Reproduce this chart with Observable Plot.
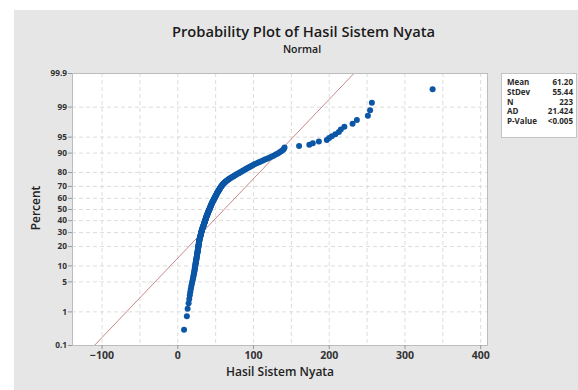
<!DOCTYPE html>
<html><head><meta charset="utf-8">
<script src="https://cdn.jsdelivr.net/npm/d3@7"></script>
<script src="https://cdn.jsdelivr.net/npm/@observablehq/plot@0.6"></script>
<style>
body{margin:0;background:#fff;font-family:"Open Sans",sans-serif;}
#wrap{position:relative;width:578px;height:390px;overflow:hidden;}
#bg{position:absolute;left:14px;top:10px;right:0;bottom:0;background:#e6e6e6;}
#head{position:absolute;left:0;top:0;width:578px;height:60px;}
#title{position:absolute;left:0;width:607px;top:21px;text-align:center;font-size:14.7px;font-weight:600;color:#1a1a1a;white-space:nowrap;}
#sub{position:absolute;left:0;width:604px;top:42px;text-align:center;font-size:10.5px;font-weight:600;color:#1a1a1a;}
#chart{position:absolute;left:0;top:60px;}
#chart svg text{font-weight:700;}
#xlab{position:absolute;left:0;width:560px;top:363px;text-align:center;font-size:12px;font-weight:600;color:#222;}
#ylab{position:absolute;left:35px;top:208px;transform:translate(-50%,-50%) rotate(-90deg);font-size:12px;font-weight:600;color:#222;white-space:nowrap;}
#stats{position:absolute;left:501px;top:73px;width:76px;height:65px;background:#fff;border:1px solid #c4c4c4;box-sizing:border-box;font-size:8px;font-weight:700;color:#2a2a2a;padding:3px 3px 0 5px;}
#stats .row{display:flex;justify-content:space-between;height:9.8px;line-height:9.8px;}
</style></head>
<body>
<div id="wrap">
<div id="bg"></div>
<div id="head"><div id="title"></div><div id="sub"></div></div>
<div id="chart"></div>
<div id="xlab"></div>
<div id="ylab"></div>
<div id="stats"></div>
</div>
<script>
const titleText = "Probability Plot of Hasil Sistem Nyata";
const subtitleText = "Normal";
const xLabel = "Hasil Sistem Nyata";
const yLabel = "Percent";
const n = 223;
const mean = 61.20, stdev = 55.44;
const statLabels = ["Mean","StDev","N","AD","P-Value"];
const statValues = ["61.20","55.44","223","21.424","<0.005"];
const pctTicks = [0.1,1,5,10,20,30,40,50,60,70,80,90,95,99,99.9];
const xTicks = [-100,0,100,200,300,400];
const xGrid = [-100,-50,0,50,100,150,200,250,300,350,400];
const values = [
 8.3,12.0,13.0,14.3,15.2,15.9,16.5,17.1,17.7,18.3,
 18.9,19.4,19.9,20.4,20.8,21.2,21.6,21.9,22.1,22.4,
 22.6,22.9,23.1,23.4,23.6,23.8,24.0,24.3,24.5,24.7,
 24.9,25.1,25.3,25.4,25.6,25.8,26.0,26.2,26.3,26.5,
 26.6,26.8,26.9,27.1,27.2,27.3,27.5,27.6,27.8,27.9,
 28.0,28.2,28.3,28.5,28.6,28.8,29.0,29.2,29.4,29.6,
 29.8,30.0,30.2,30.4,30.6,30.8,30.9,31.1,31.3,31.5,
 31.7,31.9,32.2,32.4,32.7,32.9,33.2,33.4,33.7,33.9,
 34.1,34.4,34.6,34.9,35.1,35.3,35.6,35.8,36.0,36.2,
 36.4,36.6,36.9,37.1,37.3,37.5,37.7,38.0,38.2,38.4,
 38.7,39.0,39.3,39.5,39.8,40.1,40.3,40.6,40.8,41.1,
 41.4,41.7,42.0,42.2,42.5,42.8,43.0,43.3,43.5,43.8,
 44.1,44.4,44.6,44.9,45.2,45.5,45.9,46.2,46.6,46.9,
 47.2,47.6,47.9,48.3,48.6,49.0,49.3,49.6,50.0,50.3,
 50.7,51.1,51.5,51.8,52.2,52.6,53.0,53.5,53.9,54.3,
 54.7,55.2,55.6,56.1,56.5,57.1,57.6,58.2,58.7,59.3,
 60.1,60.9,61.6,62.4,63.2,64.3,65.4,66.5,67.6,68.7,
 70.1,71.5,72.9,74.3,75.7,77.3,78.9,80.5,82.1,83.7,
 85.4,87.1,88.8,90.5,92.2,94.1,96.0,97.9,99.8,101.7,
 104.4,107.0,109.7,112.4,115.1,117.9,120.8,123.6,126.5,129.3,
 132.1,134.5,136.6,138.8,140.2,141.0,
 160.2,173.7,178.3,186.3,196.8,199.9,203.4,208.1,212.7,215.3,
 220.0,230.8,236.5,251.0,254.0,256.3,336.5
];

function probit(p){
 const a=[-3.969683028665376e+01,2.209460984245205e+02,-2.759285104469687e+02,1.383577518672690e+02,-3.066479806614716e+01,2.506628277459239e+00];
 const b=[-5.447609879822406e+01,1.615858368580409e+02,-1.556989798598866e+02,6.680131188771972e+01,-1.328068155288572e+01];
 const c=[-7.784894002430293e-03,-3.223964580411365e-01,-2.400758277161838e+00,-2.549732539343734e+00,4.374664141464968e+00,2.938163982698783e+00];
 const d=[7.784695709041462e-03,3.224671290700398e-01,2.445134137142996e+00,3.754408661907416e+00];
 const pl=0.02425, ph=1-pl; let q,r;
 if(p<pl){q=Math.sqrt(-2*Math.log(p));return (((((c[0]*q+c[1])*q+c[2])*q+c[3])*q+c[4])*q+c[5])/((((d[0]*q+d[1])*q+d[2])*q+d[3])*q+1);}
 if(p<=ph){q=p-0.5;r=q*q;return (((((a[0]*r+a[1])*r+a[2])*r+a[3])*r+a[4])*r+a[5])*q/(((((b[0]*r+b[1])*r+b[2])*r+b[3])*r+b[4])*r+1);}
 q=Math.sqrt(-2*Math.log(1-p));return -(((((c[0]*q+c[1])*q+c[2])*q+c[3])*q+c[4])*q+c[5])/((((d[0]*q+d[1])*q+d[2])*q+d[3])*q+1);
}

document.getElementById("title").textContent = titleText;
document.getElementById("sub").textContent = subtitleText;
document.getElementById("xlab").textContent = xLabel;
document.getElementById("ylab").textContent = yLabel;
document.getElementById("stats").innerHTML = statLabels.map((l,i)=>`<div class="row"><span>${l}</span><span>${statValues[i]}</span></div>`).join("");

const zTicks = pctTicks.map(p => probit(p/100));
const zLabel = new Map(zTicks.map((z,i)=>[z, String(pctTicks[i])]));
const zMin = zTicks[0], zMax = zTicks[zTicks.length-1];
const points = values.map((v,i)=>({x:v, z:probit((i+1-0.3)/(n+0.4))}));
const fit = [{x: mean + stdev*zMin, z: zMin}, {x: mean + stdev*zMax, z: zMax}];

const plot = Plot.plot({
 width:578, height:330, marginTop:13, marginBottom:45, marginLeft:72, marginRight:91,
 style:{background:"transparent", fontFamily:"Open Sans", color:"#333"},
 x:{domain:[-139,409], label:null},
 y:{domain:[zMin,zMax], label:null},
 marks:[
  Plot.frame({fill:"white", stroke:null}),
  Plot.ruleX(xGrid, {stroke:"#d4d4d4", strokeDasharray:"4,3", strokeWidth:0.8}),
  Plot.ruleY(zTicks, {stroke:"#d4d4d4", strokeDasharray:"4,3", strokeWidth:0.8}),
  Plot.line(fit, {x:"x", y:"z", stroke:"#c98888", strokeWidth:1}),
  Plot.dot(points, {x:"x", y:"z", r:3, fill:"#0b56a5", stroke:null}),
  Plot.frame({stroke:"#bcbcbc"}),
  Plot.axisX(xTicks, {tickSize:4, stroke:"#999", tickPadding:2, fontSize:10.5, fill:"#333", label:null}),
  Plot.axisY(zTicks, {tickSize:4, stroke:"#999", tickPadding:1.5, fontSize:8.3, fill:"#333", label:null, tickFormat: d => zLabel.get(d)})
 ]
});
document.getElementById("chart").appendChild(plot);
</script>
</body></html>
